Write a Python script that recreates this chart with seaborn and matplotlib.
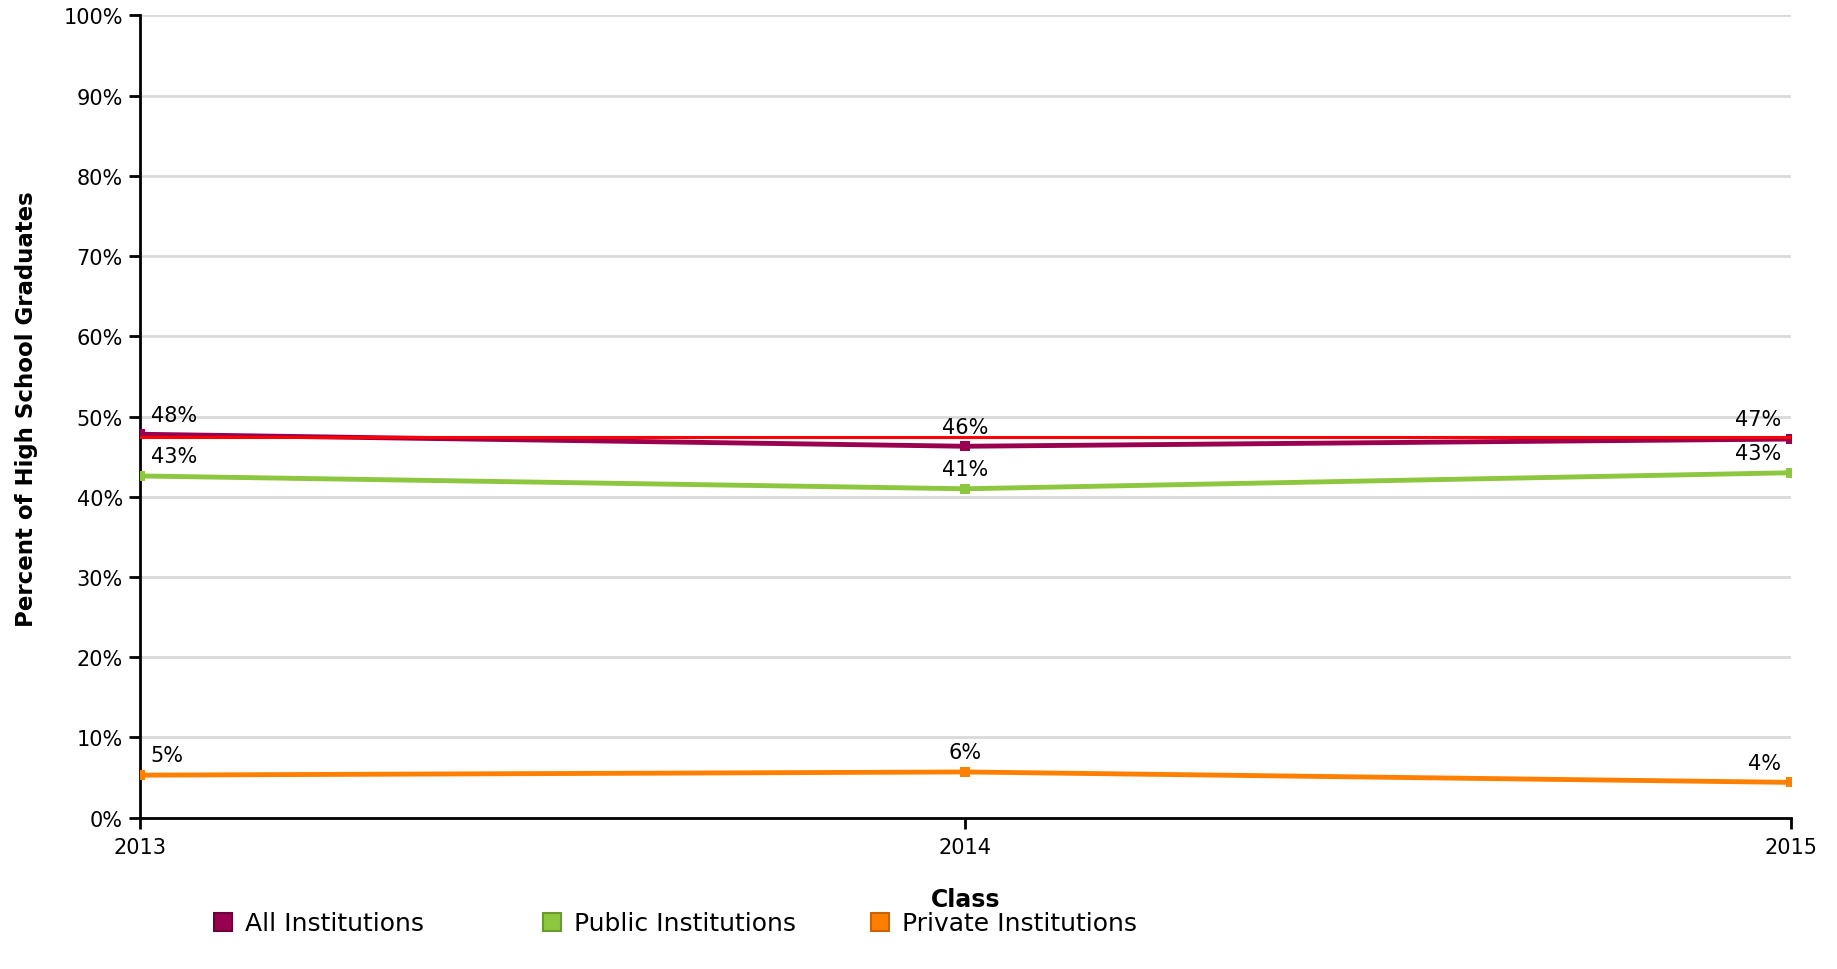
import matplotlib
matplotlib.use("Agg")
import matplotlib.pyplot as plt
from matplotlib.lines import Line2D
import pandas as pd
import seaborn as sns

# Values (percent of high school graduates)
years = [2013, 2014, 2015]
all_inst = [47.8, 46.3, 47.2]
public_inst = [42.6, 41.0, 43.0]
private_inst = [5.3, 5.7, 4.4]
reference_line = [47.5, 47.5, 47.5]
all_labels = ['48%', '46%', '47%']
public_labels = ['43%', '41%', '43%']
private_labels = ['5%', '6%', '4%']

series_names = ['All Institutions', 'Public Institutions', 'Private Institutions']
colors = ['#990050', '#8dc63f', '#ff8000']
edge_colors = ['#6b0038', '#6a9a2c', '#c86400']

df = pd.DataFrame({
    'Class': years * 3,
    'Percent': all_inst + public_inst + private_inst,
    'Series': [n for n in series_names for _ in years],
})

sns.set_style('white')
plt.rcParams['font.family'] = ['DejaVu Sans']
plt.rcParams['text.color'] = 'black'
plt.rcParams['axes.labelcolor'] = 'black'
plt.rcParams['xtick.color'] = 'black'
plt.rcParams['ytick.color'] = 'black'

fig = plt.figure(figsize=(18.37, 9.7), dpi=100)
ax = fig.add_axes([0.076, 0.156, 0.899, 0.827])

for y in range(10, 101, 10):
    ax.axhline(y, color='#d9d9d9', lw=2, zorder=0)

sns.lineplot(data=df, x='Class', y='Percent', hue='Series', hue_order=series_names,
             palette=colors, marker='s', markersize=7, markeredgewidth=0,
             linewidth=3.5, legend=False, ax=ax, zorder=3)
sns.lineplot(x=years, y=reference_line, color='#ff0000', linewidth=2.2, ax=ax, zorder=4)

aligns = ['left', 'center', 'right']
offsets = [8, 0, -7]
for vals, labs in [(all_inst, all_labels), (public_inst, public_labels), (private_inst, private_labels)]:
    for i, (yr, v, lab) in enumerate(zip(years, vals, labs)):
        ax.annotate(lab, (yr, v), xytext=(offsets[i], 7), textcoords='offset points',
                    ha=aligns[i], va='bottom', fontsize=15, color='black')

ax.set_xlim(2013, 2015)
ax.set_ylim(0, 100)
ax.set_xticks(years)
ax.set_xticklabels([str(y) for y in years], fontsize=15)
ax.set_yticks(range(0, 101, 10))
ax.set_yticklabels([f'{y}%' for y in range(0, 101, 10)], fontsize=15)
ax.tick_params(axis='both', direction='out', length=8, width=2, color='black',
               bottom=True, left=True, pad=4)
ax.tick_params(axis='x', pad=6)

for side in ['top', 'right']:
    ax.spines[side].set_visible(False)
for side in ['left', 'bottom']:
    ax.spines[side].set_color('black')
    ax.spines[side].set_linewidth(2)

ax.set_xlabel('Class', fontsize=17, fontweight='bold')
ax.set_ylabel('Percent of High School Graduates', fontsize=16.5, fontweight='bold')
ax.xaxis.set_label_coords(0.5, -0.087)
ax.yaxis.set_label_coords(-0.0615, 0.51)

legend_x = [0.1165, 0.2955, 0.474]
for name, c, e, lx in zip(series_names, colors, edge_colors, legend_x):
    h = Line2D([0], [0], marker='s', linestyle='none', markersize=13,
               markerfacecolor=c, markeredgecolor=e, markeredgewidth=1.5)
    fig.legend([h], [name], loc='center left', bbox_to_anchor=(lx - 0.002, 0.047),
               frameon=False, fontsize=18, handletextpad=0.4, handlelength=1.0,
               borderpad=0, borderaxespad=0)

fig.savefig('out.png', dpi=100)
